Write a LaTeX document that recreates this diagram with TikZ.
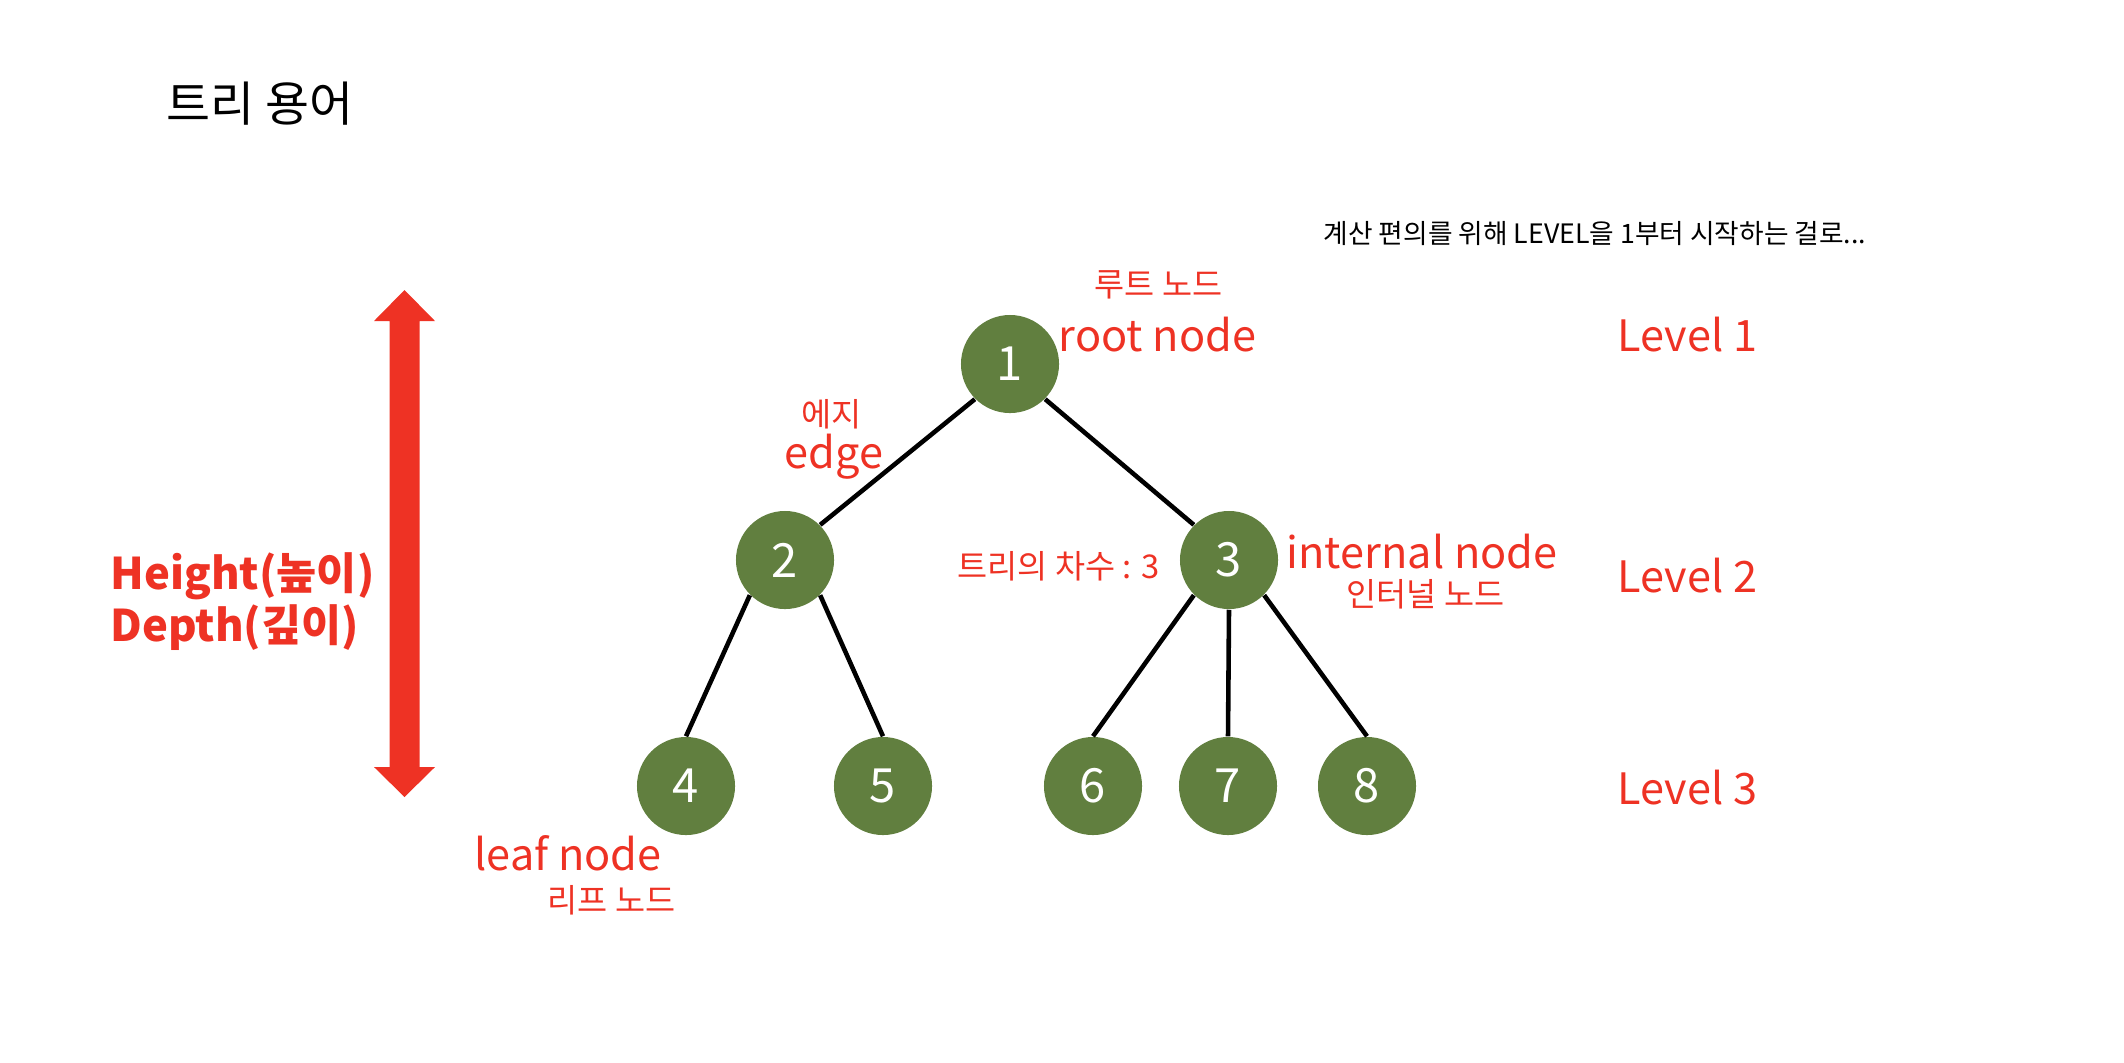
\documentclass[tikz,border=0pt]{standalone}
\usepackage{fontspec}
\setmainfont{Noto Sans CJK KR}
\begin{document}
\definecolor{treegreen}{RGB}{97,127,63}
\definecolor{termred}{RGB}{238,50,36}
\tikzset{
  treenode/.style={circle, fill=treegreen, draw=none, minimum size=0.98cm, inner sep=0pt,
    text=white, font=\fontsize{13.4pt}{15pt}\selectfont},
  treeedge/.style={draw=black, line width=1.3pt},
  bigred/.style={text=termred, inner sep=0pt, font=\fontsize{12.3pt}{15pt}\selectfont},
  smallred/.style={text=termred, inner sep=0pt, font=\fontsize{9.3pt}{11pt}\selectfont},
  boldred/.style={text=termred, inner sep=0pt, font=\bfseries\fontsize{12.4pt}{15pt}\selectfont},
  titletext/.style={text=black, inner sep=0pt, font=\fontsize{13.6pt}{16pt}\selectfont},
  notetext/.style={text=black, inner sep=0pt, font=\fontsize{7.6pt}{9pt}\selectfont},
}
\begin{tikzpicture}[x=0.01cm, y=-0.01cm]
\useasboundingbox (0,0) rectangle (2124,1062);
% title and note
\node[titletext, anchor=west] (title) at (166,104) {트리 용어};
\node[notetext, anchor=west] (note) at (1323,233) {계산 편의를 위해 LEVEL을 1부터 시작하는 걸로...};
% tree nodes
\node[treenode] (n1) at (1010,364) {1};
\node[treenode] (n2) at (785,560) {2};
\node[treenode] (n3) at (1229,560) {3};
\node[treenode] (n4) at (686,786) {4};
\node[treenode] (n5) at (883,786) {5};
\node[treenode] (n6) at (1093,786) {6};
\node[treenode] (n7) at (1228,786) {7};
\node[treenode] (n8) at (1367,786) {8};
% edges
\draw[treeedge] (n1.south west) -- (n2.north east);
\draw[treeedge] (n1.south east) -- (n3.north west);
\draw[treeedge] (n2.south west) -- (n4.north);
\draw[treeedge] (n2.south east) -- (n5.north);
\draw[treeedge] (n3.south west) -- (n6.north);
\draw[treeedge] (n3.south) -- (n7.north);
\draw[treeedge] (n3.south east) -- (n8.north);
% labels
\node[smallred, anchor=west] (rootko) at (1094,285) {루트 노드};
\node[bigred, anchor=base west] (rooten) at (1058,351) {root node};
\node[smallred, anchor=west] (edgeko) at (801,414) {에지};
\node[bigred, anchor=base west] (edgeen) at (784,468) {edge};
\node[smallred, anchor=west] (degree) at (957,566) {트리의 차수 : 3};
\node[bigred, anchor=base west] (internalen) at (1286,568) {internal node};
\node[smallred, anchor=west] (internalko) at (1346,594) {인터널 노드};
\node[bigred, anchor=base west] (leafen) at (474,870) {leaf node};
\node[smallred, anchor=west] (leafko) at (547,900) {리프 노드};
\node[bigred, anchor=base west] (lv1) at (1617,351) {Level 1};
\node[bigred, anchor=base west] (lv2) at (1617,592) {Level 2};
\node[bigred, anchor=base west] (lv3) at (1617,804) {Level 3};
\node[boldred, anchor=base west] (height) at (110,589) {Height(높이)};
\node[boldred, anchor=base west] (depth) at (110,641) {Depth(깊이)};
% double arrow
\fill[termred] (404.5,290) -- (435,321) -- (419.5,321) -- (419.5,767) -- (435,767)
  -- (404.5,797) -- (374,767) -- (389.5,767) -- (389.5,321) -- (374,321) -- cycle;
\end{tikzpicture}
\end{document}
